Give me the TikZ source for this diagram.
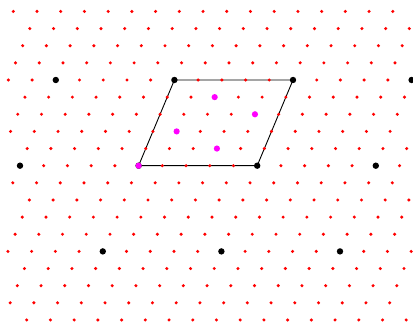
\documentclass[tikz,border=0pt]{standalone}
\definecolor{dotmag}{RGB}{255,0,255}
\definecolor{dotred}{RGB}{255,0,0}
\begin{document}
\begin{tikzpicture}[x=1pt,y=1pt,
  reddot/.style={fill=dotred},
  blackdot/.style={fill=black},
  magdot/.style={fill=dotmag},
  cellline/.style={draw=black,line width=0.9pt}]
\useasboundingbox (0,0) rectangle (413,323);
\def\ox{138.6}\def\oy{157.3}
\def\ax{23.72}\def\bx{7.16}\def\by{17.14}
% unit cell of the superlattice
\coordinate (P0) at (\ox,\oy);
\coordinate (P1) at ({\ox+5*\ax},\oy);
\coordinate (P2) at ({\ox+5*\ax+5*\bx},{\oy+5*\by});
\coordinate (P3) at ({\ox+5*\bx},{\oy+5*\by});
\draw[cellline] (P0) -- (P1) -- (P2) -- (P3) -- cycle;
% lattice points
\foreach \k in {-9,...,9}{
  \pgfmathtruncatemacro{\nmin}{ceil((7.3-\ox-(\k)*\bx)/\ax)}
  \pgfmathtruncatemacro{\nmax}{floor((412.5-\ox-(\k)*\bx)/\ax)}
  \foreach \n in {\nmin,...,\nmax}{
    \fill[reddot] ({\ox+(\n)*\ax+(\k)*\bx},{\oy+(\k)*\by}) circle (1.7);
  }
}
% superlattice points
\foreach \i/\j in {0/0,1/0,0/1,1/1,-1/1,2/1,-1/0,2/0,0/-1,1/-1,2/-1}{
  \fill[blackdot] ({\ox+5*(\i)*\ax+5*(\j)*\bx},{\oy+5*(\j)*\by}) circle (3.2);
}
% sublattice points inside the cell
\foreach \n/\k in {0/0,1/2,2/4,3/1,4/3}{
  \fill[magdot] ({\ox+(\n)*\ax+(\k)*\bx},{\oy+(\k)*\by}) circle (3.1);
}
\end{tikzpicture}
\end{document}
